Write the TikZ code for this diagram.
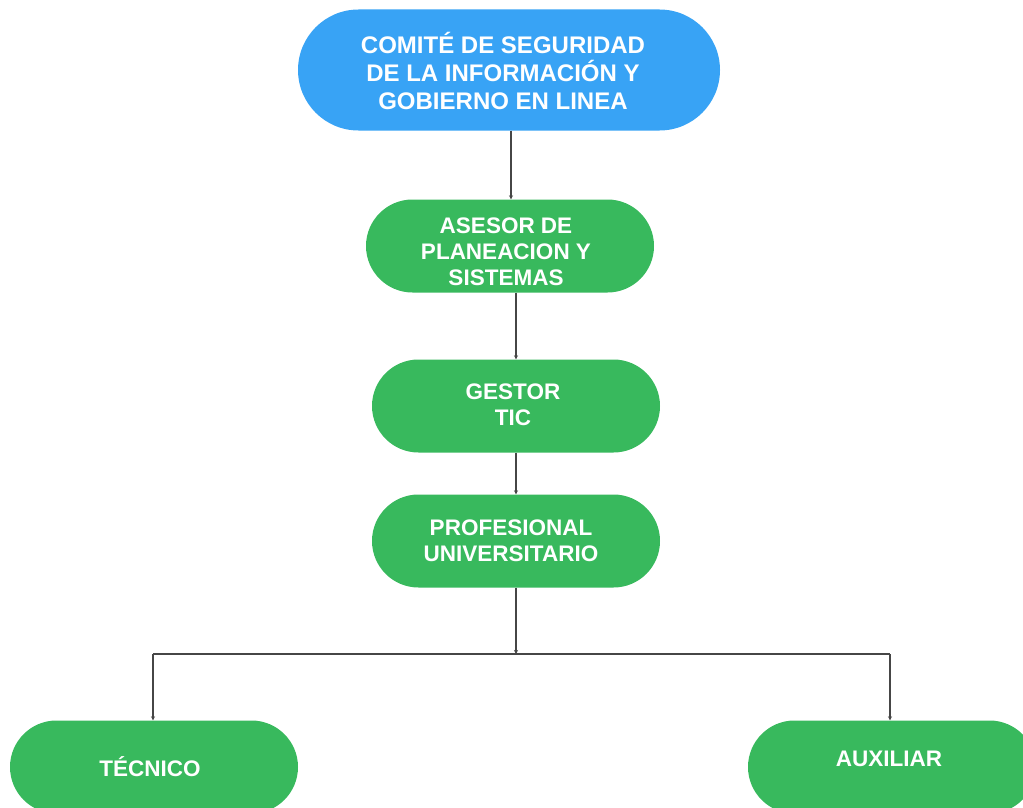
\documentclass[tikz,border=0pt]{standalone}
\usepackage{fontspec}
\setmainfont{Liberation Sans}
\usetikzlibrary{shapes.misc,arrows.meta}
\definecolor{boxblue}{RGB}{56,163,245}
\definecolor{boxgreen}{RGB}{56,185,93}
\definecolor{lin}{RGB}{70,70,70}
\tikzset{
  pill/.style={rounded rectangle, draw=none, inner sep=0pt},
  bluepill/.style={pill, fill=boxblue, minimum width=422pt, minimum height=121pt},
  greenpill/.style={pill, fill=boxgreen, minimum width=288pt, minimum height=93pt},
  toptext/.style={text=white, align=center, inner sep=0pt, font=\bfseries\fontsize{24}{28}\selectfont},
  boxtext/.style={text=white, align=center, inner sep=0pt, font=\bfseries\fontsize{22.5}{26}\selectfont},
  conn/.style={draw=lin, line width=1.1pt, -{Stealth[length=4pt,width=4pt]}},
  seg/.style={draw=lin, line width=1.1pt}
}
\begin{document}
\begin{tikzpicture}[x=1pt,y=-1pt]
\useasboundingbox (0,0) rectangle (1023,808);
\clip (0,0) rectangle (1023,808);
\node[bluepill] (com) at (509,70) {};
\node[toptext] (comt) at (503,71) {COMITÉ DE SEGURIDAD\\DE LA INFORMACIÓN Y\\GOBIERNO EN LINEA};
\node[greenpill] (ase) at (510,246) {};
\node[boxtext] (aset) at (506,252) {ASESOR DE\\PLANEACION Y\\SISTEMAS};
\node[greenpill] (ges) at (516,406) {};
\node[boxtext] (gest) at (513,405) {GESTOR\\TIC};
\node[greenpill] (pro) at (516,541) {};
\node[boxtext] (prot) at (511,541) {PROFESIONAL\\UNIVERSITARIO};
\node[greenpill] (tec) at (154,767) {};
\node[boxtext] (tect) at (150,767) {TÉCNICO};
\node[greenpill] (aux) at (892,767) {};
\node[boxtext] (auxt) at (889,759) {AUXILIAR};
\coordinate (j) at (516,654);
\coordinate (jl) at (153,654);
\coordinate (jr) at (890,654);
\draw[conn] (com.south -| 511,0) -- (ase.north -| 511,0);
\draw[conn] (ase.south -| 516,0) -- (ges.north -| 516,0);
\draw[conn] (ges.south) -- (pro.north);
\draw[conn] (pro.south) -- (j);
\draw[seg] (jl) -- (jr);
\draw[conn] (jl) -- (tec.north -| jl);
\draw[conn] (jr) -- (aux.north -| jr);
\end{tikzpicture}
\end{document}
